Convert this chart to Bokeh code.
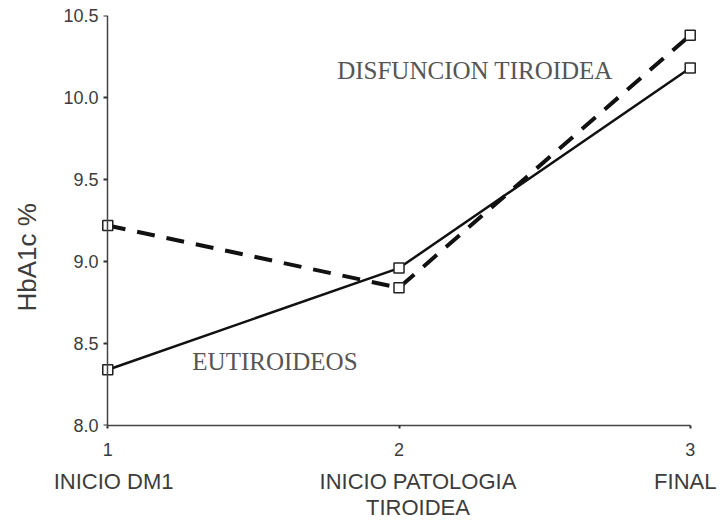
from bokeh.plotting import figure
from bokeh.models import (Range1d, Label, FixedTicker, PrintfTickFormatter,
                          LinearAxis, Title)
from bokeh.embed import file_html
from bokeh.resources import INLINE

# ---- data ----
stages = [1, 2, 3]
stage_labels = ["INICIO DM1", "INICIO PATOLOGIA\nTIROIDEA", "FINAL"]
eutiroideos = [8.34, 8.96, 10.18]
disfuncion = [9.22, 8.84, 10.38]
series_names = ["EUTIROIDEOS", "DISFUNCION TIROIDEA"]
y_ticks = [8.0, 8.5, 9.0, 9.5, 10.0, 10.5]
y_title = "HbA1c %"

# layout-only: horizontal nudges of the stage captions (in x units)
caption_shift = [0.02, 0.065, -0.017]

SANS = "Liberation Sans"
SERIF = "Liberation Serif"
TXT = "#3c3c3c"

p = figure(width=722, height=522,
           x_range=Range1d(0.975, 3.025), y_range=Range1d(8.0, 10.5),
           output_backend="svg", toolbar_location=None,
           min_border_left=100, min_border_right=25,
           min_border_top=15, min_border_bottom=97)
p.outline_line_color = None
p.grid.visible = False
p.background_fill_color = "white"
p.border_fill_color = "white"


def style(ax):
    ax.major_label_text_font = SANS
    ax.major_label_text_color = TXT
    ax.major_label_text_font_size = "18px"
    ax.minor_tick_line_color = None


# x axis with the stage numbers
xa = p.xaxis[0]
style(xa)
xa.ticker = FixedTicker(ticks=stages)
xa.bounds = (stages[0], stages[-1])
xa.axis_line_color = "#444444"
xa.axis_line_width = 1.5
xa.major_tick_line_color = "#333333"
xa.major_tick_line_width = 2
xa.major_tick_out = 3
xa.major_tick_in = 0
xa.major_label_standoff = 14
xa.major_label_text_line_height = 1.0

# second x axis: stage captions
cap_ticks = [s + d for s, d in zip(stages, caption_shift)]
xc = LinearAxis(ticker=FixedTicker(ticks=cap_ticks),
                major_label_overrides={t: l for t, l in zip(cap_ticks, stage_labels)})
style(xc)
xc.major_label_text_font_size = "22px"
xc.major_label_text_line_height = 1.05
xc.axis_line_color = None
xc.major_tick_line_color = None
xc.major_tick_out = 0
xc.major_tick_in = 0
xc.major_label_standoff = 10
p.add_layout(xc, "below")

# y axis labels (left panel, no line)
ya = p.yaxis[0]
style(ya)
ya.ticker = FixedTicker(ticks=y_ticks)
ya.formatter = PrintfTickFormatter(format="%.1f")
ya.axis_line_color = None
ya.major_tick_line_color = None
ya.major_tick_out = 0
ya.major_tick_in = 0
ya.major_label_standoff = 2

# invisible spacer axis between the tick labels and the title
sp = LinearAxis(ticker=FixedTicker(ticks=[y_ticks[0]]),
                major_label_overrides={y_ticks[0]: ""},
                axis_line_color=None, minor_tick_line_color=None,
                major_tick_line_color="white", major_tick_line_alpha=0,
                major_tick_out=16, major_tick_in=0, major_label_standoff=0,
                major_label_text_font_size="1px")
p.add_layout(sp, "left")

# y axis line + ticks drawn at x = 1
yl = LinearAxis(ticker=FixedTicker(ticks=y_ticks), fixed_location=stages[0],
                bounds=(y_ticks[0], y_ticks[-1]))
yl.axis_line_color = "#444444"
yl.axis_line_width = 1.5
yl.major_tick_line_color = "#333333"
yl.major_tick_line_width = 2
yl.major_tick_in = 4
yl.major_tick_out = 0
yl.minor_tick_line_color = None
yl.major_label_text_font_size = "0px"
yl.major_label_text_color = None
yl.major_label_standoff = 0
p.add_layout(yl, "right")

# y title
p.add_layout(Title(text=y_title, align="left", offset=114, standoff=6,
                   text_font=SANS, text_font_size="26px", text_font_style="normal",
                   text_color=TXT), "left")

# series
p.line(stages, disfuncion, line_color="#111111", line_width=4, line_dash="18 12")
p.line(stages, eutiroideos, line_color="#111111", line_width=2.5)
p.scatter(stages, disfuncion, marker="square", size=10, fill_color="white",
          line_color="#222222", line_width=1.5)
p.scatter(stages, eutiroideos, marker="square", size=10, fill_color="white",
          line_color="#222222", line_width=1.5)

# series labels
p.add_layout(Label(x=1.574, y=8.39, text=series_names[0], text_font=SERIF,
                   text_font_size="25px", text_color="#555555",
                   text_align="center", text_baseline="middle"))
p.add_layout(Label(x=2.261, y=10.165, text=series_names[1], text_font=SERIF,
                   text_font_size="25px", text_color="#555555",
                   text_align="center", text_baseline="middle"))

open("out.html", "w").write(file_html(p, INLINE))
